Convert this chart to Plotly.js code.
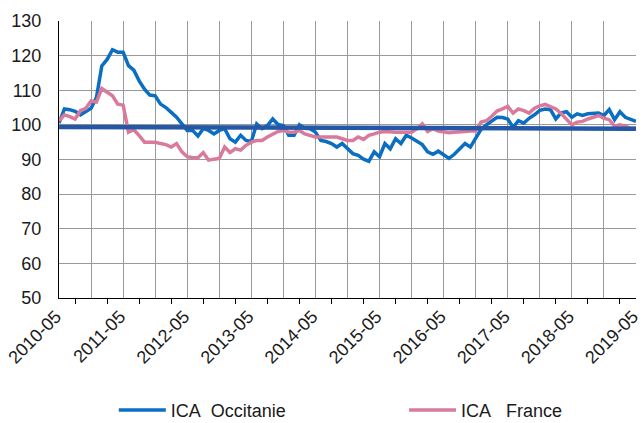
<!DOCTYPE html>
<html>
<head>
<meta charset="utf-8">
<script src="https://cdn.plot.ly/plotly-3.0.1.min.js"></script>
<style>html,body{margin:0;padding:0;background:#fff;}#chart{width:643px;height:423px;}</style>
</head>
<body>
<div id="chart"></div>
<script>
// Months 2010-05 .. 2019-05
const months = [];
for (let y = 2010, m = 5; y < 2019 || (y === 2019 && m <= 5); ) {
  months.push(y + "-" + String(m).padStart(2, "0"));
  m++; if (m > 12) { m = 1; y++; }
}
const labelMonths = ["2010-05","2011-05","2012-05","2013-05","2014-05","2015-05","2016-05","2017-05","2018-05","2019-05"];

const icaOccitanie = [
100.5,104.6,104.4,103.9,102.9,103.8,104.8,107.9,117.0,118.9,
121.7,121.0,121.0,117.1,115.8,112.7,110.3,108.6,108.4,106.0,
105.0,103.6,102.2,100.3,98.4,98.4,96.8,98.9,98.4,97.4,
98.4,98.9,96.0,95.0,97.0,95.5,95.2,100.3,98.9,99.8,
101.7,100.1,99.8,97.0,97.0,100.0,99.0,98.9,97.9,95.5,
95.2,94.6,93.6,94.6,93.3,91.7,91.2,90.1,89.5,92.2,
90.8,94.6,93.1,96.0,94.6,97.0,96.2,95.1,94.3,92.2,
91.5,92.4,91.4,90.3,91.5,93.1,94.6,93.6,96.0,98.7,
100.0,101.0,102.2,102.1,101.7,99.3,101.2,100.5,101.9,102.9,
104.2,104.6,104.4,101.7,103.5,103.8,102.2,103.2,102.7,103.2,
103.4,103.4,102.7,104.4,101.5,103.8,102.2,101.7,101.0
];
const icaFrance = [
101.2,102.9,102.4,101.7,104.1,104.8,106.9,106.6,110.5,109.5,
108.4,106.0,105.7,97.9,98.6,96.9,95.0,95.0,95.0,94.6,
94.3,93.6,94.6,92.2,90.8,90.5,90.5,92.0,89.8,90.1,
90.3,93.6,92.0,93.1,92.7,94.1,95.0,95.5,95.5,96.5,
97.4,98.1,98.4,97.9,97.9,98.4,97.4,97.0,96.5,96.5,
96.5,96.7,96.5,96.0,95.5,95.5,96.5,95.8,97.0,97.4,
97.9,98.1,97.9,97.9,97.9,97.9,97.9,98.9,100.3,98.1,
98.9,98.2,97.9,97.7,97.9,98.1,98.1,98.2,98.2,100.8,
101.2,102.5,104.0,104.6,105.3,103.4,104.6,104.1,103.4,104.8,
105.5,105.9,105.2,104.6,103.3,101.7,100.0,100.8,101.0,101.7,
102.2,102.7,101.9,101.5,99.6,100.0,99.6,99.05,99.05
];
const baseLine = [99.4, 98.9];
const seriesNames = ["ICA\u00a0 Occitanie", "ICA\u00a0\u00a0 France"];

const idx = months.map((_, i) => i);
const gridVals = idx.filter(i => i % 6 === 0);
const gridText = gridVals.map(i => (labelMonths.includes(months[i]) ? months[i] : ""));

const traces = [
  {x: idx, y: icaOccitanie, type: "scatter", mode: "lines", name: seriesNames[0],
   legend: "legend", line: {color: "#0A6FC2", width: 3.5}},
  {x: idx, y: icaFrance, type: "scatter", mode: "lines", name: seriesNames[1],
   legend: "legend2", line: {color: "#D97A9C", width: 3.5}},
  {x: [idx[0], idx[idx.length - 1]], y: baseLine, type: "scatter", mode: "lines",
   showlegend: false, line: {color: "#2457A6", width: 4.5}}
];

const legendBase = {orientation: "h", xanchor: "left", y: -0.405, yanchor: "middle",
                    font: {size: 18}, bgcolor: "rgba(0,0,0,0)", itemwidth: 47};
const layout = {
  width: 643, height: 423,
  margin: {l: 59, r: 7, t: 21, b: 125, autoexpand: false},
  paper_bgcolor: "#fff", plot_bgcolor: "#fff",
  font: {family: "Liberation Sans, Arial, sans-serif", size: 18, color: "#1a1a1a"},
  showlegend: true,
  legend: Object.assign({}, legendBase, {x: 0.095}),
  legend2: Object.assign({}, legendBase, {x: 0.598}),
  xaxis: {
    range: [-0.01, 108.01], tickmode: "array", tickvals: gridVals, ticktext: gridText,
    tickangle: -45, ticks: "", showgrid: true, gridcolor: "#999", gridwidth: 1,
    showline: true, linecolor: "#000", linewidth: 1, zeroline: false, automargin: false,
    ticklabeloverflow: "allow", ticklabelshift: -3,
    minor: {tick0: 3, dtick: 6, ticks: "outside", ticklen: 5, tickcolor: "#000", showgrid: false},
    tickfont: {size: 18}
  },
  yaxis: {
    range: [50, 130], dtick: 10, tick0: 50, showgrid: true, gridcolor: "#999", gridwidth: 1,
    showline: true, linecolor: "#000", linewidth: 1, zeroline: false, ticks: "", automargin: false,
    ticklabelstandoff: 13, tickfont: {size: 18}
  }
};

Plotly.newPlot("chart", traces, layout, {displayModeBar: false, staticPlot: true});
</script>
</body>
</html>
